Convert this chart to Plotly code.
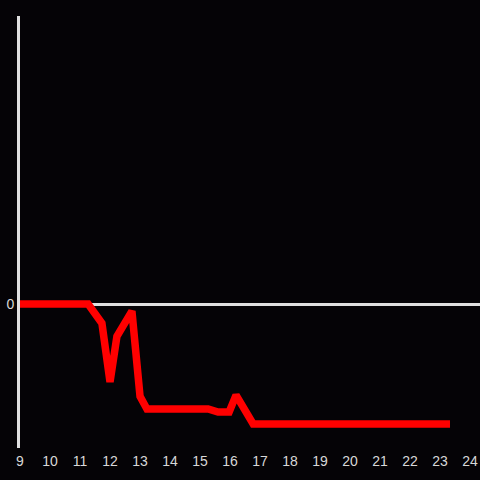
import plotly.graph_objects as go

# readings of the series
hours = [9, 11.27, 11.73, 12.0, 12.23, 12.73, 13.0, 13.23, 15.27, 15.6, 15.97, 16.2, 16.77, 23.33]
values = [0, 0, -0.16, -0.65, -0.27, -0.06, -0.77, -0.875, -0.875, -0.9, -0.9, -0.76, -1.0, -1.0]

x_ticks = list(range(9, 25))

fig = go.Figure()
fig.add_trace(go.Scatter(x=hours, y=values, mode="lines",
                         line=dict(color="#ff0000", width=7.5), showlegend=False))

fig.update_layout(
    width=480, height=480,
    margin=dict(l=20, r=0, t=16, b=32, autoexpand=False),
    paper_bgcolor="#050306", plot_bgcolor="#050306",
    font=dict(family="Liberation Sans, Arial", size=14, color="#d8d8d8"),
)
fig.update_xaxes(range=[9, 24.33], tickvals=x_ticks, showgrid=False,
                 zeroline=False, showline=False, ticks="", automargin=False,
                 ticklabelstandoff=3)
fig.update_yaxes(range=[-1.2, 2.4], tickvals=[0], showgrid=False,
                 zeroline=True, zerolinecolor="#e0e0e0", zerolinewidth=3,
                 showline=True, linecolor="#e0e0e0", linewidth=3, ticks="",
                 automargin=False)

fig.write_html("out.html", config={"displayModeBar": False},
               post_script="document.body.style.margin='0';document.body.style.background='#050306';")
